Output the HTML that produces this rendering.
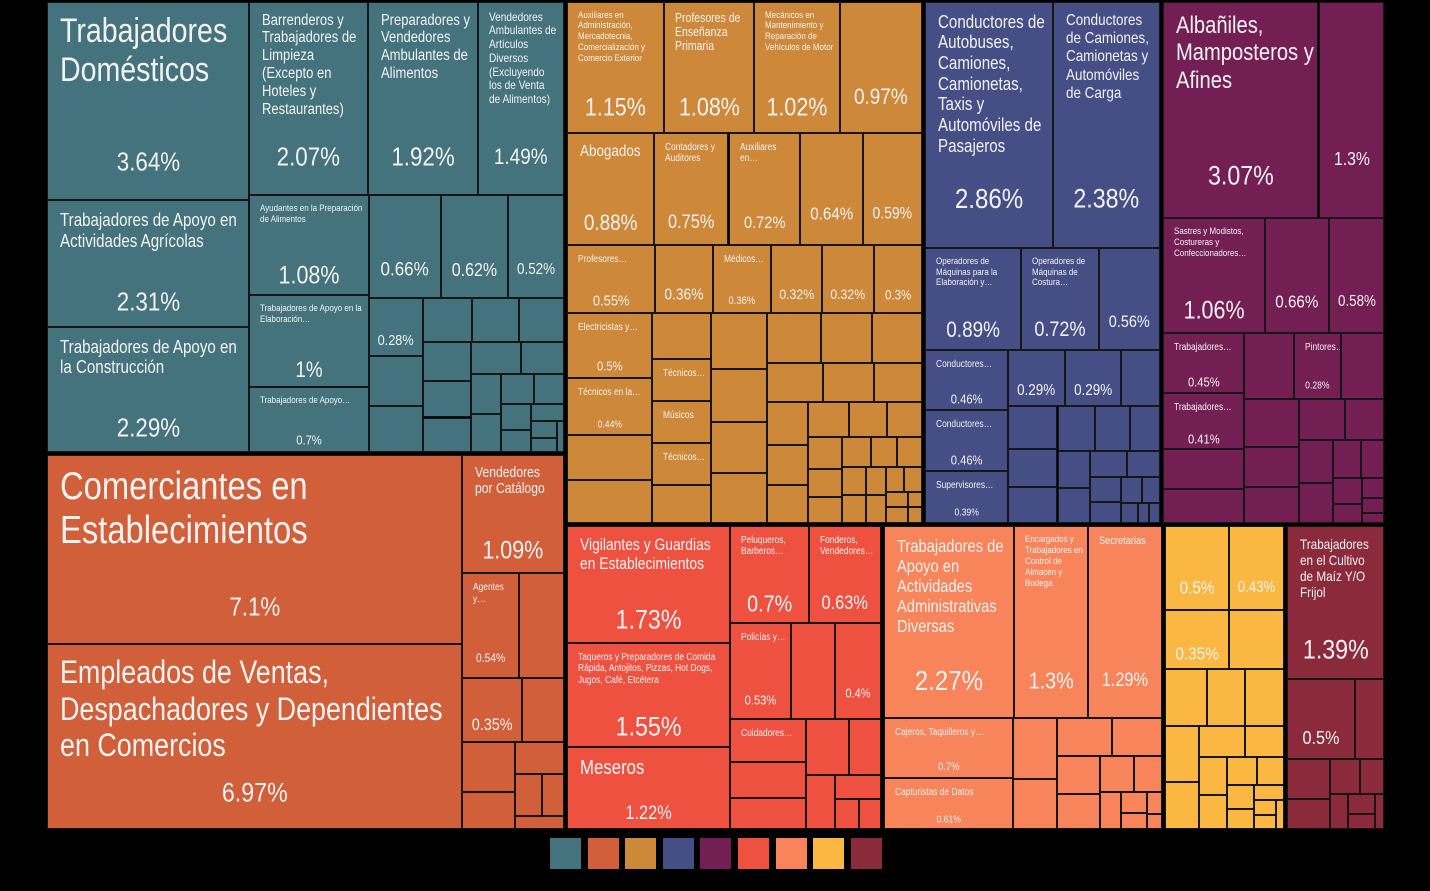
<!DOCTYPE html>
<html><head><meta charset="utf-8">
<style>
html,body{margin:0;padding:0;background:#000;}
#chart{position:relative;width:1430px;height:891px;background:#000;overflow:hidden;font-family:"Liberation Sans Narrow","Liberation Sans",sans-serif;color:#f2f2f2;}
.cell{position:absolute;box-sizing:border-box;border:1px solid #161616;overflow:hidden;}
.nm{position:absolute;line-height:1.15;transform-origin:0 0;transform:scaleX(0.84);}
.pc{position:absolute;left:0;right:0;text-align:center;transform:translateY(-50%) scaleX(0.86);white-space:nowrap;}
.lg{position:absolute;top:838px;width:31px;height:31px;}
</style></head><body>
<div id="chart"></div>
<script>
// ---- data (values in % of workers) ----
const groupColors = ["#45737d","#d15f3a","#cd8839","#464e86","#731f53","#ef5140","#f7845a","#fab843","#8a2a3b"];
const tealFiller = [0.28,0.24,0.22,0.2,0.19,0.18,0.17,0.16,0.15,0.14,0.12,0.11,0.1,0.09,0.08,0.07,0.06,0.05,0.04,0.03,0.02];
const orangeFiller = [0.24,0.18,0.14,0.1,0.08,0.06];
const ochreFiller = [0.28,0.27,0.26,0.25,0.24,0.23,0.22,0.2,0.18,0.17,0.16,0.15,0.14,0.13,0.12,0.11,0.1,0.09,0.08,0.08,0.07,0.07,0.06,0.06,0.05,0.05,0.04,0.04,0.03,0.03,0.02,0.02];
const indigoFiller = [0.29,0.29,0.2,0.19,0.17,0.16,0.15,0.14,0.12,0.11,0.1,0.09,0.08,0.07,0.06,0.05,0.04,0.03,0.02,0.02];
const purpleFiller = [0.3,{v:0.28,n:"Pintores…"},0.26,0.24,0.2,0.18,0.17,0.15,0.13,0.12,0.1,0.08,0.07,0.05,0.04,0.03,0.02];
const redFiller = [0.22,0.16,0.14,0.1,0.07,0.06];
const salmonFiller = [0.24,0.2,0.19,0.17,0.15,0.14,0.11,0.09,0.07,0.05,0.04,0.03,0.02];
const yellowFiller = [{v:0.35,p:1},0.3,0.22,0.2,0.2,0.18,0.15,0.13,0.11,0.1,0.09,0.08,0.07,0.06,0.05,0.04,0.03,0.03,0.02];
const maroonFiller = [0.16,0.12,0.1,0.08,0.06,0.05,0.04,0.03];

const teal = {d:"h",c:[
  {d:"v",c:[{v:3.64,n:"Trabajadores Domésticos"},{v:2.31,n:"Trabajadores de Apoyo en Actividades Agrícolas"},{v:2.29,n:"Trabajadores de Apoyo en la Construcción"}]},
  {d:"v",c:[
    {d:"h",c:[{v:2.07,n:"Barrenderos y Trabajadores de Limpieza (Excepto en Hoteles y Restaurantes)"},{v:1.92,n:"Preparadores y Vendedores Ambulantes de Alimentos"},{v:1.49,n:"Vendedores Ambulantes de Artículos Diversos (Excluyendo los de Venta de Alimentos)"}]},
    {d:"h",c:[
      {d:"v",c:[{v:1.08,n:"Ayudantes en la Preparación de Alimentos"},{v:1.0,n:"Trabajadores de Apoyo en la Elaboración…"},{v:0.7,n:"Trabajadores de Apoyo…"}]},
      {d:"v",c:[{d:"h",c:[{v:0.66,p:1},{v:0.62,p:1},{v:0.52,p:1}]},{f:tealFiller,first:1}]}
    ]}
  ]}
]};
const orange = {d:"h",c:[
  {d:"v",c:[{v:7.1,n:"Comerciantes en Establecimientos"},{v:6.97,n:"Empleados de Ventas, Despachadores y Dependientes en Comercios"}]},
  {d:"v",c:[{v:1.09,n:"Vendedores por Catálogo"},
    {d:"h",c:[{v:0.54,n:"Agentes y…"},{v:0.42}]},
    {d:"h",c:[{v:0.35,p:1},{v:0.24}]},
    {f:orangeFiller}
  ]}
]};
const ochre = {d:"v",c:[
  {d:"h",c:[{v:1.15,n:"Auxiliares en Administración, Mercadotecnia, Comercialización y Comercio Exterior"},{v:1.08,n:"Profesores de Enseñanza Primaria"},{v:1.02,n:"Mecánicos en Mantenimiento y Reparación de Vehículos de Motor"},{v:0.97,p:1}]},
  {d:"h",c:[{v:0.88,n:"Abogados"},{v:0.75,n:"Contadores y Auditores"},{v:0.72,n:"Auxiliares en…"},{v:0.64,p:1},{v:0.59,p:1}]},
  {d:"h",c:[{v:0.55,n:"Profesores…"},{v:0.36,p:1},{v:0.36,n:"Médicos…"},{v:0.32,p:1},{v:0.32,p:1},{v:0.3,p:1}]},
  {d:"h",c:[
    {d:"v",c:[{v:0.5,n:"Electricistas y…"},{v:0.44,n:"Técnicos en la…"},{v:0.35},{v:0.33}]},
    {d:"v",c:[{v:0.24},{v:0.22,n:"Técnicos…",np:1},{v:0.22,n:"Músicos",np:1},{v:0.22,n:"Técnicos…",np:1},{v:0.2}]},
    {f:ochreFiller}
  ]}
]};
const indigo = {d:"v",c:[
  {d:"h",c:[{v:2.86,n:"Conductores de Autobuses, Camiones, Camionetas, Taxis y Automóviles de Pasajeros"},{v:2.38,n:"Conductores de Camiones, Camionetas y Automóviles de Carga"}]},
  {d:"h",c:[{v:0.89,n:"Operadores de Máquinas para la Elaboración y…"},{v:0.72,n:"Operadores de Máquinas de Costura…"},{v:0.56,p:1}]},
  {d:"h",c:[{d:"v",c:[{v:0.46,n:"Conductores…"},{v:0.46,n:"Conductores…"},{v:0.39,n:"Supervisores…"}]},{f:indigoFiller,pct2:1}]}
]};
const purple = {d:"v",c:[
  {d:"h",c:[{v:3.07,n:"Albañiles, Mamposteros y Afines"},{v:1.3,p:1}]},
  {d:"h",c:[{v:1.06,n:"Sastres y Modistos, Costureras y Confeccionadores…"},{v:0.66,p:1},{v:0.58,p:1}]},
  {d:"h",c:[{d:"v",c:[{v:0.45,n:"Trabajadores…"},{v:0.41,n:"Trabajadores…"},{v:0.3},{v:0.25}]},{f:purpleFiller}]}
]};
const red = {d:"h",c:[
  {d:"v",c:[{v:1.73,n:"Vigilantes y Guardias en Establecimientos"},{v:1.55,n:"Taqueros y Preparadores de Comida Rápida, Antojitos, Pizzas, Hot Dogs, Jugos, Café, Etcétera"},{v:1.22,n:"Meseros"}]},
  {d:"v",c:[
    {d:"h",c:[{v:0.7,n:"Peluqueros, Barberos…"},{v:0.63,n:"Fonderos, Vendedores…"}]},
    {d:"h",c:[{v:0.53,n:"Policías y…"},{v:0.38},{v:0.4,p:1}]},
    {d:"h",c:[{d:"v",c:[{v:0.3,n:"Cuidadores…",np:1},{v:0.25},{v:0.22}]},{f:redFiller}]}
  ]}
]};
const salmon = {d:"v",c:[
  {d:"h",c:[{v:2.27,n:"Trabajadores de Apoyo en Actividades Administrativas Diversas"},{v:1.3,n:"Encargados y Trabajadores en Control de Almacén y Bodega"},{v:1.29,n:"Secretarias"}]},
  {d:"h",c:[{d:"v",c:[{v:0.7,n:"Cajeros, Taquilleros y…"},{v:0.61,n:"Capturistas de Datos"}]},{f:salmonFiller}]}
]};
const yellow = {d:"v",c:[{d:"h",c:[{v:0.5,p:1},{v:0.43,p:1}]},{f:yellowFiller}]};
const maroon = {d:"v",c:[{v:1.39,n:"Trabajadores en el Cultivo de Maíz Y/O Frijol"},{d:"h",c:[{v:0.5,p:1},{v:0.22}]},{f:maroonFiller}]};

const groupNames = ["servicios-personales","comercio","profesionales-tecnicos","operadores-transporte","construccion-artesanos","proteccion-servicios","administrativos","industria","agropecuarios"];
const root = {d:"h",c:[{d:"v",c:[{g:0,t:teal},{g:1,t:orange}]},{d:"v",c:[{d:"h",c:[{g:2,t:ochre},{g:3,t:indigo},{g:4,t:purple}]},{d:"h",c:[{g:5,t:red},{g:6,t:salmon},{g:7,t:yellow},{g:8,t:maroon}]}]}]};

// ---- label styles (name size, pct size) ----
const labelStyle = {
 "Trabajadores Domésticos":[34,26],"Trabajadores de Apoyo en Actividades Agrícolas":[18,26],"Trabajadores de Apoyo en la Construcción":[18,26],
 "Barrenderos y Trabajadores de Limpieza (Excepto en Hoteles y Restaurantes)":[15.5,26],"Preparadores y Vendedores Ambulantes de Alimentos":[15.5,26],
 "Vendedores Ambulantes de Artículos Diversos (Excluyendo los de Venta de Alimentos)":[12,22],"Ayudantes en la Preparación de Alimentos":[9.5,25],
 "Trabajadores de Apoyo en la Elaboración…":[9.5,22],"Trabajadores de Apoyo…":[9.5,13],
 "Comerciantes en Establecimientos":[39,26],"Empleados de Ventas, Despachadores y Dependientes en Comercios":[32,27],"Vendedores por Catálogo":[14.5,25],"Agentes y…":[10,12],
 "Auxiliares en Administración, Mercadotecnia, Comercialización y Comercio Exterior":[9.5,25],"Profesores de Enseñanza Primaria":[12.5,25],"Mecánicos en Mantenimiento y Reparación de Vehículos de Motor":[9.5,25],
 "Abogados":[16,22],"Contadores y Auditores":[10,19],"Auxiliares en…":[10,17],"Profesores…":[10,15],"Médicos…":[10,11],"Electricistas y…":[10,13],"Técnicos en la…":[10,10],"Técnicos…":[10,10],"Músicos":[10,10],
 "Conductores de Autobuses, Camiones, Camionetas, Taxis y Automóviles de Pasajeros":[18,28],"Conductores de Camiones, Camionetas y Automóviles de Carga":[16,27],
 "Operadores de Máquinas para la Elaboración y…":[9.5,22],"Operadores de Máquinas de Costura…":[9.5,21],"Conductores…":[10,13],"Supervisores…":[10,10],
 "Albañiles, Mamposteros y Afines":[24,27],"Sastres y Modistos, Costureras y Confeccionadores…":[9.5,25],"Trabajadores…":[10,13],"Pintores…":[10,10],
 "Vigilantes y Guardias en Establecimientos":[16.5,27],"Taqueros y Preparadores de Comida Rápida, Antojitos, Pizzas, Hot Dogs, Jugos, Café, Etcétera":[10,27],"Meseros":[20,19],
 "Peluqueros, Barberos…":[10,23],"Fonderos, Vendedores…":[10,19],"Policías y…":[10,13],"Cuidadores…":[10,10],
 "Trabajadores de Apoyo en Actividades Administrativas Diversas":[17.5,28],"Encargados y Trabajadores en Control de Almacén y Bodega":[9.5,23],"Secretarias":[11,19],
 "Cajeros, Taquilleros y…":[10,11],"Capturistas de Datos":[10,10],"Trabajadores en el Cultivo de Maíz Y/O Frijol":[14,27]
};
function pctOnlySize(w,h){return Math.max(10,Math.min(22,Math.min(w/3.6,h/3.2)));}

const chart = document.getElementById('chart');
function val(x){return typeof x==='number'?x:x.v;}
function size(n){ if(typeof n==='number')return n; if(n.t)return size(n.t); if(n.f)return n.f.reduce((a,b)=>a+val(b),0); if(n.c)return n.c.reduce((a,b)=>a+size(b),0); return n.v; }

function drawLeaf(node,x,y,w,h,color){
  const d=document.createElement('div');
  d.className='cell';
  
  
  d.style.left=x+'px';d.style.top=y+'px';d.style.width=w+'px';d.style.height=h+'px';d.style.background=color;
  const st = node.n ? (labelStyle[node.n]||[10,12]) : null;
  if(node.n){
    const nm=document.createElement('div');nm.className='nm';
    
    
    const pad = st[0]>=13?12:10;
    nm.style.left=pad+'px';nm.style.top=(st[0]>=13?9:8)+'px';nm.style.width=((w-pad-6)/0.84)+'px';nm.style.fontSize=st[0]+'px';
    nm.textContent=node.n;d.appendChild(nm);
  }
  if((node.n && !node.np) || node.p){
    const pc=document.createElement('div');pc.className='pc';
    
    
    const fs = st ? st[1] : pctOnlySize(w,h);
    pc.style.fontSize=fs+'px';
    pc.style.top=(node.n? h*0.8 : h*0.72)+'px';
    pc.textContent=node.v+'%';d.appendChild(pc);
  }
  chart.appendChild(d);
}

function worst(row,w){const s=row.reduce((a,b)=>a+b.a,0);let mx=0,mn=Infinity;row.forEach(r=>{mx=Math.max(mx,r.a);mn=Math.min(mn,r.a);});return Math.max(w*w*mx/(s*s),(s*s)/(w*w*mn));}
function squarify(items,x,y,w,h,color){
  const tot=items.reduce((a,b)=>a+val(b),0);
  let list=items.map(it=>({it,a:val(it)/tot*w*h})).sort((a,b)=>b.a-a.a);
  while(list.length){
    const side=Math.min(w,h);let row=[list[0]];let i=1;
    while(i<list.length && worst(row.concat([list[i]]),side)<=worst(row,side)){row.push(list[i]);i++;}
    list=list.slice(i);
    const s=row.reduce((a,b)=>a+b.a,0);
    if(w>=h){const cw=s/h;let cy=y;row.forEach(r=>{const ch=r.a/cw;place(r.it,x,cy,cw,ch,color);cy+=ch;});x+=cw;w-=cw;}
    else{const ch=s/w;let cx=x;row.forEach(r=>{const cw=r.a/ch;place(r.it,cx,y,cw,ch,color);cx+=cw;});y+=ch;h-=ch;}
  }
}
function place(it,x,y,w,h,color){ drawLeaf(typeof it==='number'?{v:it}:it,x,y,w,h,color); }

function lay(n,x,y,w,h,color){
  if(n.t!==undefined){
    lay(n.t,x+1.5,y+1.5,w-3,h-3,groupColors[n.g]);return;
  }
  if(n.f){ squarify(n.f.map((v,i)=>(n.first&&i===0&&typeof v==='number')?{v:v,p:1}:(n.pct2&&i<2&&typeof v==='number'?{v:v,p:1}:v)),x,y,w,h,color);return;}
  if(!n.c){drawLeaf(n,x,y,w,h,color);return;}
  const tot=size(n);let off=0;
  n.c.forEach(ch=>{const s=size(ch)/tot;
    if(n.d==='h'){lay(ch,x+off,y,w*s,h,color);off+=w*s;}
    else{lay(ch,x,y+off,w,h*s,color);off+=h*s;}
  });
}
lay(root,45,0,1341,831,null);

// legend
groupColors.forEach((c,i)=>{
  const s=document.createElement('div');s.className='lg';
  
  
  s.style.left=(550+i*37.6)+'px';s.style.background=c;chart.appendChild(s);
});
</script>
</body></html>
